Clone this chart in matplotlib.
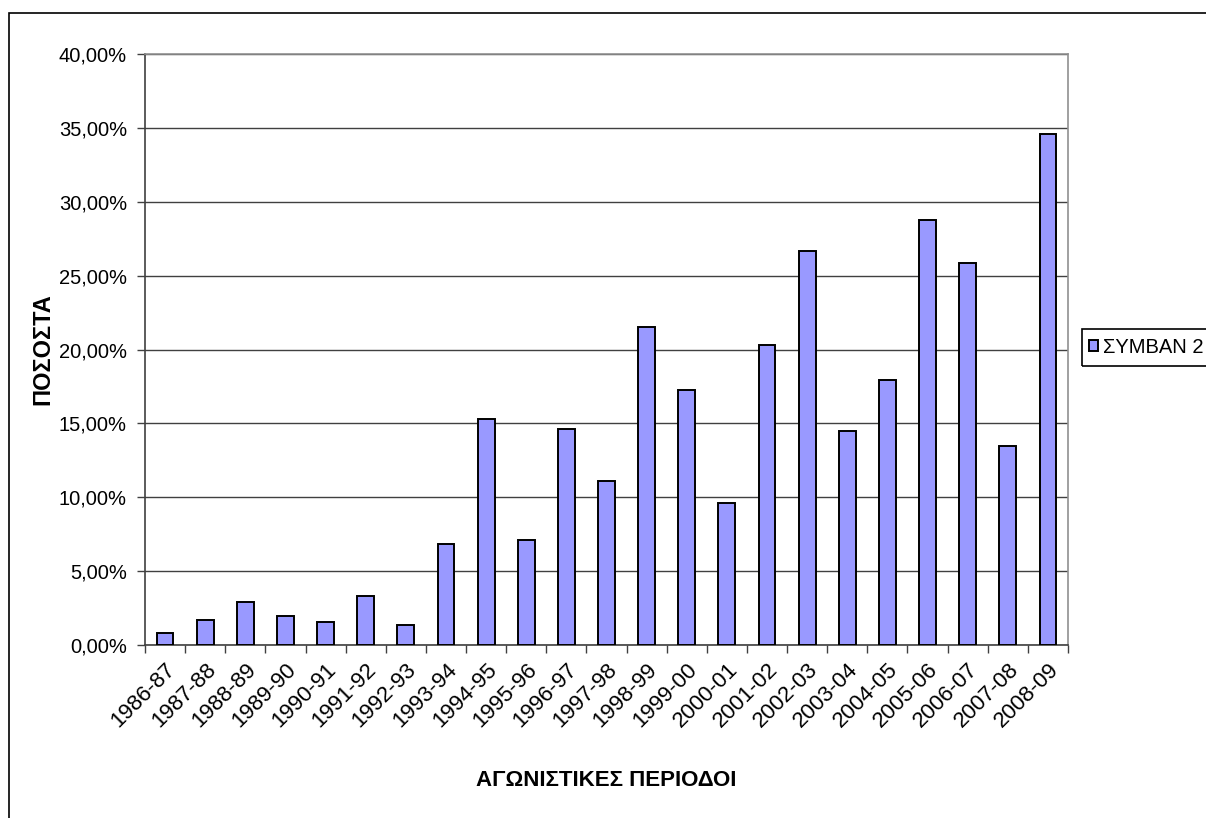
import matplotlib
matplotlib.use("Agg")
import matplotlib.pyplot as plt
from matplotlib.patches import Rectangle

plt.rcParams['font.family'] = ['Liberation Sans', 'DejaVu Sans']

# --- data ---
seasons = ["1986-87", "1987-88", "1988-89", "1989-90", "1990-91", "1991-92",
           "1992-93", "1993-94", "1994-95", "1995-96", "1996-97", "1997-98",
           "1998-99", "1999-00", "2000-01", "2001-02", "2002-03", "2003-04",
           "2004-05", "2005-06", "2006-07", "2007-08", "2008-09"]
values = [0.81, 1.71, 2.90, 1.98, 1.57, 3.31, 1.33, 6.82, 15.27, 7.09, 14.62,
          11.08, 21.49, 17.23, 9.62, 20.30, 26.65, 14.49, 17.93, 28.75, 25.87,
          13.44, 34.59]
yticks = [0, 5, 10, 15, 20, 25, 30, 35, 40]
series_name = "ΣΥΜΒΑΝ 2"

W, H = 1206, 818
fig = plt.figure(figsize=(W / 100, H / 100), dpi=100)
ax = fig.add_axes([145 / W, 1 - 645 / H, 923 / W, 591 / H])

x = list(range(len(seasons)))
ax.bar(x, values, width=0.42, color="#9999FF", edgecolor="black",
       linewidth=1.4, label=series_name, zorder=3)

ax.set_xlim(-0.5, len(seasons) - 0.5)
ax.set_ylim(0, 40)
ax.set_yticks(yticks)
ax.set_yticklabels([f"{v:.2f}%".replace(".", ",") for v in yticks], fontsize=14.5)
ax.yaxis.grid(True, color="#404040", linewidth=1.0, zorder=0)

# category ticks sit at the boundaries, labels at the centres
ax.set_xticks([i - 0.5 for i in range(len(seasons) + 1)])
ax.set_xticklabels([])
ax.set_xticks(x, minor=True)
ax.set_xticklabels(seasons, minor=True, rotation=45, ha="right",
                   rotation_mode="anchor", fontsize=16)
ax.tick_params(axis="x", which="minor", length=0, pad=10)
ax.tick_params(axis="x", which="major", length=6, width=1, color="#404040")
ax.tick_params(axis="y", length=6, width=1, color="#404040", pad=7)

for side in ["left", "bottom"]:
    ax.spines[side].set_color("#404040")
    ax.spines[side].set_linewidth(1.2)
for side in ["right", "top"]:
    ax.spines[side].set_color("#909090")
    ax.spines[side].set_linewidth(1.2)

ax.set_ylabel("ΠΟΣΟΣΤΑ", fontsize=17, fontweight="bold", va="center")
ax.yaxis.set_label_coords((43 - 145) / 923, 0.5)
ax.set_xlabel("ΑΓΩΝΙΣΤΙΚΕΣ ΠΕΡΙΟΔΟΙ", fontsize=16, fontweight="bold",
              labelpad=28)

# legend: box runs off the right edge like in the original
leg = fig.legend(loc="upper left", bbox_to_anchor=(1085 / W, 1 - 334 / H),
                 fontsize=14.5, frameon=False, borderpad=0.2,
                 handlelength=0.45, handleheight=0.45, handletextpad=0.25,
                 borderaxespad=0)
fig.patches.append(Rectangle((1082 / W, 1 - 366 / H), 150 / W, 37 / H,
                             transform=fig.transFigure, fill=False,
                             edgecolor="black", linewidth=1.2))

# outer chart frame (runs off the right and bottom edges)
fig.patches.append(Rectangle((9 / W, -0.05), 1.1, 1 - 13 / H + 0.05,
                             transform=fig.transFigure, fill=False,
                             edgecolor="black", linewidth=1.2))

fig.savefig("out.png", dpi=100)
